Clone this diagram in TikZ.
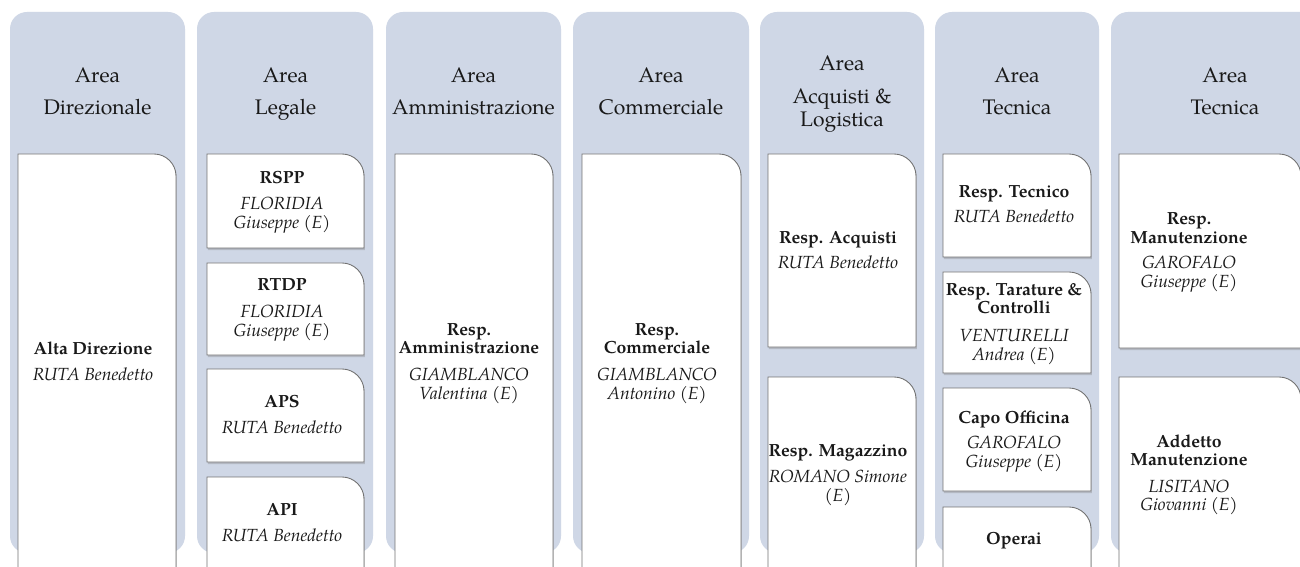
\documentclass[tikz,border=0pt]{standalone}
\usepackage{fontspec}
\setmainfont{texgyrepagella}[Extension=.otf, UprightFont=*-regular, BoldFont=*-bold, ItalicFont=*-italic, BoldItalicFont=*-bolditalic]
\usetikzlibrary{shadows}
\definecolor{panelc}{RGB}{207,215,230}
\definecolor{txt}{RGB}{25,25,25}
\tikzset{
 panelst/.style={fill=panelc, rounded corners=0.34cm},
 boxst/.style={fill=white, draw=black!55, line width=0.5pt, drop shadow={shadow xshift=0.5pt, shadow yshift=-1.2pt, opacity=0.35}},
 hd/.style={anchor=base, inner sep=0pt, text=txt, font=\fontsize{12}{14}\selectfont},
 bt/.style={anchor=base, inner sep=0pt, text=txt, font=\fontsize{10}{12}\selectfont\bfseries},
 it/.style={anchor=base, inner sep=0pt, text=txt, font=\fontsize{10}{12}\selectfont\itshape},
}
\newcommand\rbox[4]{\path[boxst] (#1,#4) -- (#1,#3) -- (#2-22,#3) .. controls (#2-9.9,#3) and (#2,#3+9.9) .. (#2,#3+22) -- (#2,#4) -- cycle;}
\begin{document}
\begin{tikzpicture}[x=0.02cm, y=-0.02cm]
\useasboundingbox (0,0) rectangle (1300,567);
\clip (0,0) rectangle (1300,567);
\fill[white] (0,0) rectangle (1300,567);
% panels
\path[panelst] (10,12) rectangle (185,553);
\path[panelst] (197,12) rectangle (373,553);
\path[panelst] (386,12) rectangle (561,553);
\path[panelst] (573,12) rectangle (749,553);
\path[panelst] (760,12) rectangle (924,553);
\path[panelst] (935,12) rectangle (1099,553);
\path[panelst] (1111,12) rectangle (1345,553);
% headers
\node[hd] (h1a) at (97.5,83) {Area};
\node[hd] (h1b) at (97.5,115) {Direzionale};
\node[hd] (h2a) at (285.5,83) {Area};
\node[hd] (h2b) at (285.5,115) {Legale};
\node[hd] (h3a) at (473.5,83) {Area};
\node[hd] (h3b) at (473.5,115) {Amministrazione};
\node[hd] (h4a) at (661,83) {Area};
\node[hd] (h4b) at (661,115) {Commerciale};
\node[hd] (h5a) at (842,71) {Area};
\node[hd] (h5b) at (842,104) {Acquisti \&};
\node[hd] (h5c) at (842,127) {Logistica};
\node[hd] (h6a) at (1017,83) {Area};
\node[hd] (h6b) at (1017,115) {Tecnica};
\node[hd] (h7a) at (1225,83) {Area};
\node[hd] (h7b) at (1225,115) {Tecnica};
% boxes
\rbox{18}{176}{154}{600}
\rbox{207}{364}{154}{248}
\rbox{207}{364}{263}{355}
\rbox{207}{364}{369}{462}
\rbox{207}{364}{477}{600}
\rbox{395}{553}{154}{600}
\rbox{582}{741}{154}{600}
\rbox{768}{916}{154}{347}
\rbox{768}{916}{377}{600}
\rbox{943}{1091}{154}{257}
\rbox{943}{1091}{272}{373}
\rbox{943}{1091}{388}{491}
\rbox{943}{1091}{507}{600}
\rbox{1119}{1301}{154}{348}
\rbox{1119}{1301}{377}{600}
% column 1
\node[bt] (ad1) at (93,354) {Alta Direzione};
\node[it] (ad2) at (93,380) {RUTA Benedetto};
% column 2
\node[bt] (rs1) at (282,184) {RSPP};
\node[it] (rs2) at (282,210) {FLORIDIA};
\node[it] (rs3) at (282,229) {Giuseppe (E)};
\node[bt] (rt1) at (282,291) {RTDP};
\node[it] (rt2) at (282,317) {FLORIDIA};
\node[it] (rt3) at (282,336) {Giuseppe (E)};
\node[bt] (ap1) at (282,407) {APS};
\node[it] (ap2) at (282,433) {RUTA Benedetto};
\node[bt] (pi1) at (282,515) {API};
\node[it] (pi2) at (282,541) {RUTA Benedetto};
% column 3
\node[bt] (am1) at (469,335) {Resp.};
\node[bt] (am2) at (469,353) {Amministrazione};
\node[it] (am3) at (469,380) {GIAMBLANCO};
\node[it] (am4) at (469,399) {Valentina (E)};
% column 4
\node[bt] (co1) at (657,335) {Resp.};
\node[bt] (co2) at (657,353) {Commerciale};
\node[it] (co3) at (657,380) {GIAMBLANCO};
\node[it] (co4) at (657,399) {Antonino (E)};
% column 5
\node[bt] (aq1) at (838,244) {Resp. Acquisti};
\node[it] (aq2) at (838,269) {RUTA Benedetto};
\node[bt] (mg1) at (838,456) {Resp. Magazzino};
\node[it] (mg2) at (838,482) {ROMANO Simone};
\node[it] (mg3) at (838,501) {(E)};
% column 6
\node[bt] (te1) at (1014,198) {Resp. Tecnico};
\node[it] (te2) at (1014,223) {RUTA Benedetto};
\node[bt] (ta1) at (1014,296) {Resp. Tarature \&};
\node[bt] (ta2) at (1014,314) {Controlli};
\node[it] (ta3) at (1014,341) {VENTURELLI};
\node[it] (ta4) at (1014,360) {Andrea (E)};
\node[bt] (of1) at (1014,423) {Capo Officina};
\node[it] (of2) at (1014,448) {GAROFALO};
\node[it] (of3) at (1014,467) {Giuseppe (E)};
\node[bt] (op1) at (1014,544) {Operai};
% column 7
\node[bt] (ma1) at (1189,225) {Resp.};
\node[bt] (ma2) at (1189,244) {Manutenzione};
\node[it] (ma3) at (1189,269) {GAROFALO};
\node[it] (ma4) at (1189,288) {Giuseppe (E)};
\node[bt] (dd1) at (1189,447) {Addetto};
\node[bt] (dd2) at (1189,465) {Manutenzione};
\node[it] (dd3) at (1189,492) {LISITANO};
\node[it] (dd4) at (1189,510) {Giovanni (E)};
\end{tikzpicture}
\end{document}
